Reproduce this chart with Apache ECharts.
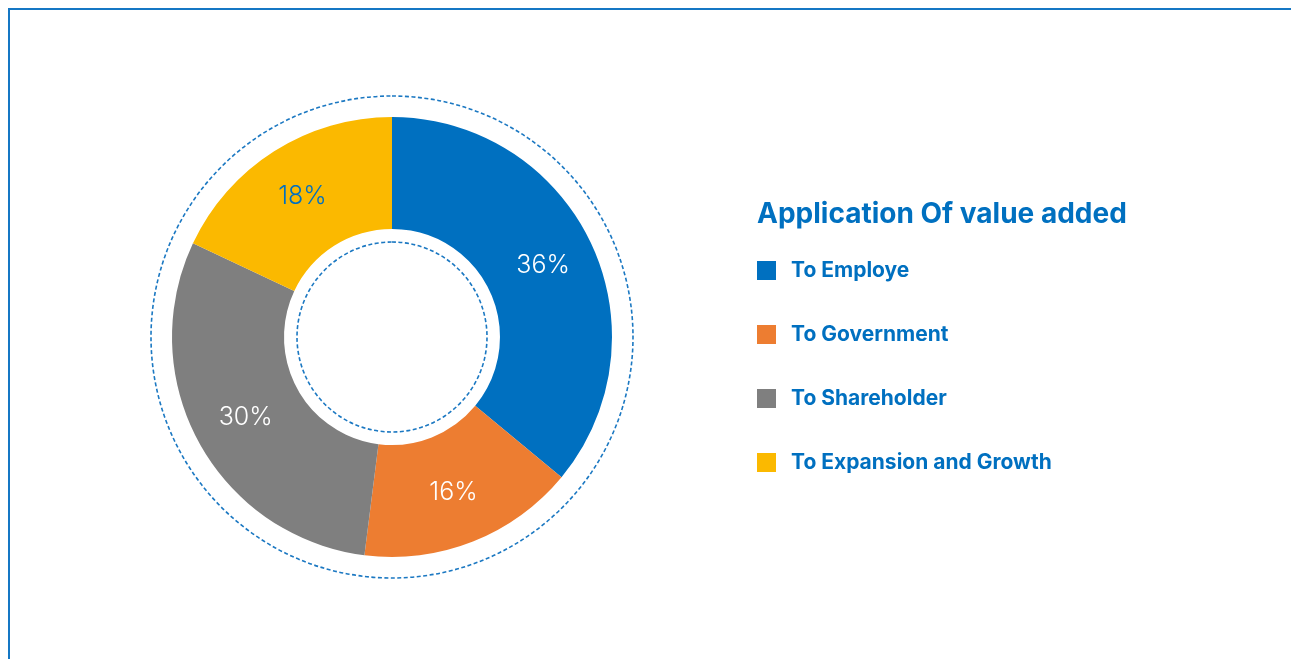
<!DOCTYPE html>
<html>
<head>
<meta charset="utf-8">
<script src="https://cdn.jsdelivr.net/npm/echarts@6/dist/echarts.min.js"></script>
<style>
  html, body { margin: 0; padding: 0; background: #ffffff; }
  #chart { width: 1291px; height: 659px; }
</style>
</head>
<body>
<div id="chart"></div>
<script>
// Application of value added, share of each destination (%)
const categories = ['To Employe', 'To Government', 'To Shareholder', 'To Expansion and Growth'];
const shares = [36, 16, 30, 18];
const sliceColors = ['#0070c0', '#ed7d31', '#7f7f7f', '#fbb900'];
const labelColors = ['#ffffff', '#ffffff', '#ffffff', '#0070c0'];
const titleText = 'Application Of value added';

const blue = '#0070c0';
const center = [392, 337];

const chart = echarts.init(document.getElementById('chart'), null, { renderer: 'canvas' });

const ringData = categories.map((name, i) => ({
  name,
  value: shares[i],
  itemStyle: { color: sliceColors[i] },
  label: { color: labelColors[i] }
}));

// a plain dashed circle, drawn as a one-slice pie with a transparent fill
function dashedCircle(radius) {
  return {
    type: 'pie',
    center,
    radius: [0, radius],
    silent: true,
    z: 1,
    label: { show: false },
    labelLine: { show: false },
    emphasis: { disabled: true },
    data: [{ value: 1, name: '', itemStyle: { color: 'rgba(0,0,0,0)', borderColor: '#1b78c2', borderWidth: 1.6, borderType: [4, 2.5] } }],
    tooltip: { show: false }
  };
}

chart.setOption({
  animation: false,
  title: {
    text: titleText,
    left: 752,
    top: 196,
    padding: 5,
    textStyle: { color: blue, fontFamily: 'Inter', fontWeight: 'bold', fontSize: 28 }
  },
  legend: {
    orient: 'vertical',
    left: 752,
    top: 255,
    icon: 'rect',
    itemWidth: 19,
    itemHeight: 19,
    itemGap: 43,
    data: categories,
    textStyle: { color: blue, fontFamily: 'Inter', fontWeight: 'bold', fontSize: 21, lineHeight: 19, padding: [0, 0, 0, 10] },
    selectedMode: false
  },
  graphic: [{
    type: 'polyline',
    shape: { points: [[9, 659], [9, 9], [1291, 9]] },
    style: { stroke: '#1577c4', lineWidth: 2, fill: null },
    silent: true
  }],
  series: [
    dashedCircle(241),
    dashedCircle(95),
    {
      type: 'pie',
      center,
      radius: [108, 220],
      startAngle: 90,
      clockwise: true,
      z: 2,
      label: {
        show: true,
        position: 'inside',
        formatter: '{c}%',
        fontFamily: 'Inter',
        fontWeight: 300,
        fontSize: 25
      },
      labelLine: { show: false },
      itemStyle: { borderWidth: 0 },
      emphasis: { disabled: true },
      data: ringData
    }
  ]
});
</script>
</body>
</html>
